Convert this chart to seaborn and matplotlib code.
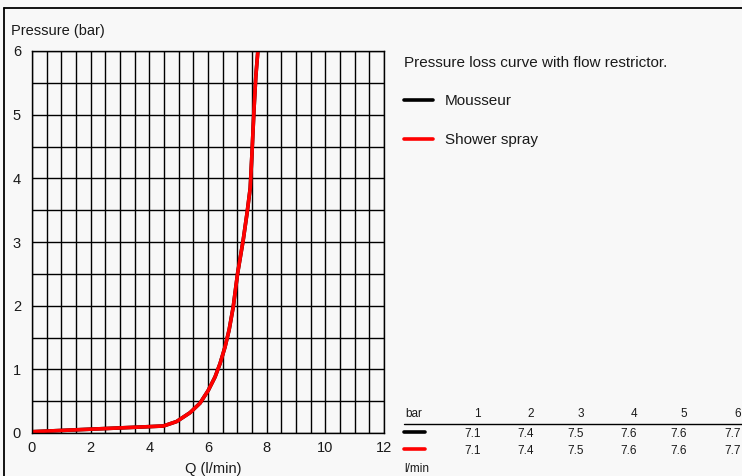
import numpy as np
import pandas as pd
import matplotlib
matplotlib.use('Agg')
import matplotlib.pyplot as plt
import seaborn as sns
from matplotlib.lines import Line2D

# 曲线数据
flow = [0.0, 1.0, 2.0, 3.0, 4.0, 4.48, 4.93, 5.39, 5.73, 6.01, 6.24, 6.41, 6.58, 6.72,
        6.86, 7.01, 7.2, 7.33, 7.44, 7.5, 7.57, 7.63, 7.7]
pressure = [0.02, 0.04, 0.06, 0.08, 0.10, 0.11, 0.18, 0.32, 0.47, 0.67, 0.88, 1.09, 1.35, 1.62,
            1.98, 2.51, 3.03, 3.45, 3.85, 4.4, 5.1, 5.6, 6.0]

# 表格数据
table_bar = [1, 2, 3, 4, 5, 6]
mousseur_flow = [7.1, 7.4, 7.5, 7.6, 7.6, 7.7]
shower_flow = [7.1, 7.4, 7.5, 7.6, 7.6, 7.7]

x_ticks = [0, 2, 4, 6, 8, 10, 12]
y_ticks = [0, 1, 2, 3, 4, 5, 6]

sns.set_theme(style='white')
plt.rcParams['font.family'] = ['Liberation Sans', 'DejaVu Sans']

bg = '#f8f8f8'
txt = '#1a1a1a'
W, H = 742, 476
fig = plt.figure(figsize=(W / 100, H / 100), dpi=100, facecolor=bg)
ax = fig.add_axes([32 / W, 1 - 433 / H, 352 / W, 382 / H])
ax.set_facecolor(bg)

df = pd.DataFrame({'Q': flow, 'P': pressure})
sns.lineplot(data=df, x='Q', y='P', ax=ax, color='black', linewidth=2.6, sort=False)
sns.lineplot(data=df, x='Q', y='P', ax=ax, color='#ff0000', linewidth=2.6, sort=False)

ax.set_xlim(0, 12)
ax.set_ylim(0, 6)
ax.set_xticks(np.arange(0, 12.01, 0.5), minor=True)
ax.set_yticks(np.arange(0, 6.01, 0.5), minor=True)
ax.set_xticks(x_ticks)
ax.set_yticks(y_ticks)
ax.set_xticklabels([str(t) for t in x_ticks], fontsize=10.5)
ax.set_yticklabels([str(t) for t in y_ticks], fontsize=10.5)
ax.grid(True, which='both', color='black', linewidth=1)
ax.set_axisbelow(True)
ax.tick_params(axis='x', which='both', length=0, pad=6, colors=txt)
ax.tick_params(axis='y', which='both', length=0, pad=8, colors=txt)
for s in ax.spines.values():
    s.set_color('black')
    s.set_linewidth(1)
ax.set_xlabel('')
ax.set_ylabel('')

fig.text(11 / W, 1 - 31 / H, 'Pressure (bar)', fontsize=10.5, va='center', ha='left', color=txt)
fig.text(213 / W, 1 - 469 / H, 'Q (l/min)', fontsize=10.5, va='center', ha='center', color=txt)

# 外框
fig.add_artist(Line2D([4 / W, 4 / W], [0, 1 - 8 / H], color='black', linewidth=1.3))
fig.add_artist(Line2D([4 / W, 1], [1 - 8 / H, 1 - 8 / H], color='black', linewidth=1.3))

# 右侧图例
fig.text(404 / W, 1 - 63 / H, 'Pressure loss curve with flow restrictor.', fontsize=11, va='center', color=txt)
for yy, c, lab in [(100, 'black', 'Mousseur'), (139, '#ff0000', 'Shower spray')]:
    fig.add_artist(Line2D([404 / W, 433 / W], [1 - yy / H] * 2, color=c, linewidth=2.6))
    fig.text(445 / W, 1 - (yy + 1) / H, lab, fontsize=11, va='center', color=txt)

# 底部表格
col_x = [481, 534, 584, 637, 687, 741]
fig.text(405 / W, 1 - 414 / H, 'bar', fontsize=8.5, va='center', color=txt)
for cx, b in zip(col_x, table_bar):
    fig.text(cx / W, 1 - 414 / H, str(b), fontsize=8.5, va='center', ha='right', color=txt)
fig.add_artist(Line2D([404 / W, 1], [1 - 424 / H] * 2, color='black', linewidth=1))
for yy, c, vals in [(434, 'black', mousseur_flow), (451, '#ff0000', shower_flow)]:
    fig.add_artist(Line2D([404 / W, 425 / W], [1 - (yy - 2) / H] * 2, color=c, linewidth=2.6))
    for cx, v in zip(col_x, vals):
        fig.text(cx / W, 1 - yy / H, f'{v:.1f}', fontsize=8.5, va='center', ha='right', color=txt)
fig.text(404 / W, 1 - 469 / H, 'l/min', fontsize=8.5, va='center', ha='left', color=txt)

fig.savefig('out.png', dpi=100, facecolor=bg)
